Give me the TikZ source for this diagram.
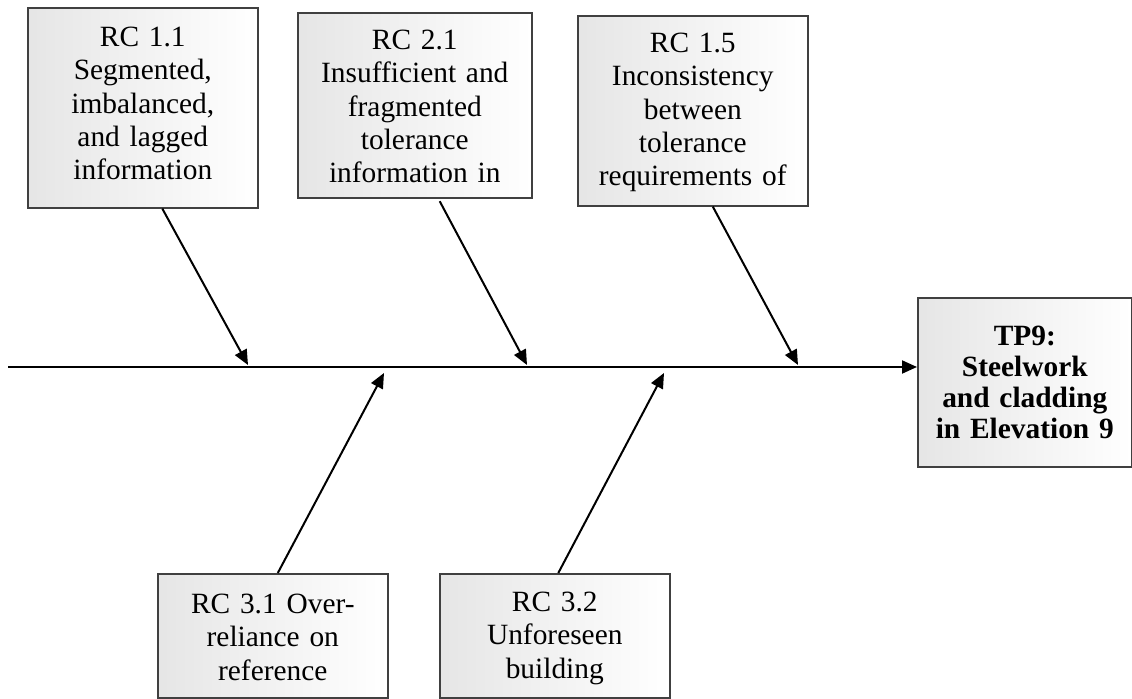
\documentclass[tikz,border=0pt]{standalone}
\usepackage{fontspec}
\setmainfont{Liberation Serif}
\usetikzlibrary{arrows.meta,positioning}
\tikzset{
  rcbox/.style={draw=black!75,line width=0.8pt,left color=black!10,right color=white,
    anchor=north west,align=center,inner xsep=4pt,inner ysep=0pt,text width=107pt,
    font=\fontsize{14.7}{16.6}\selectfont},
  tpbox/.style={rcbox,text width=99pt,minimum height=84.5pt,inner ysep=2pt,
    font=\fontsize{14.7}{15.6}\selectfont\bfseries},
  spine/.style={-{Triangle[length=7.5pt,width=6.5pt]},line width=1pt},
  causeline/.style={-{Triangle[length=7.5pt,width=6.5pt]},line width=1pt},
}
\begin{document}
\begin{tikzpicture}[x=0.5pt,y=-0.5pt]
\useasboundingbox (0,0) rectangle (1132,699);
% Top row: causes above the spine
\node[rcbox,text height=19.5pt,text depth=80.5pt] (rc11) at (27,7)
  {RC 1.1\\Segmented,\\imbalanced,\\and lagged\\information};
\node[rcbox,text width=109pt,text height=18.5pt,text depth=74pt] (rc21) at (297,12)
  {RC 2.1\\Insufficient and\\fragmented\\tolerance\\information in};
\node[rcbox,text height=18.5pt,text depth=76.5pt] (rc15) at (577,15)
  {RC 1.5\\Inconsistency\\between\\tolerance\\requirements of};
% Bottom row: causes below the spine
\node[rcbox,text height=20pt,text depth=42pt] (rc31) at (157,573)
  {RC 3.1 Over-\\reliance on\\reference};
\node[rcbox,text height=19pt,text depth=43pt] (rc32) at (439,573)
  {RC 3.2\\Unforeseen\\building};
% Effect box on the right
\node[tpbox] (tp9) at (917,297)
  {TP9:\\Steelwork\\and cladding\\in Elevation 9};
% Spine and its joints
\coordinate (tail) at (8,367);
\coordinate (j11) at (248,365);
\coordinate (j21) at (527,365);
\coordinate (j15) at (798,365);
\coordinate (j31) at (384,373);
\coordinate (j32) at (664,373);
\draw[spine] (tail) -- (tail -| tp9.west);
\draw[causeline] ([xshift=9.75pt]rc11.south) -- (j11);
\draw[causeline,shorten <=1.5pt] ([xshift=11.75pt]rc21.south) -- (j21);
\draw[causeline] ([xshift=10pt]rc15.south) -- (j15);
\draw[causeline] ([xshift=2.5pt]rc31.north) -- (j31);
\draw[causeline] ([xshift=1.75pt]rc32.north) -- (j32);
\end{tikzpicture}
\end{document}
